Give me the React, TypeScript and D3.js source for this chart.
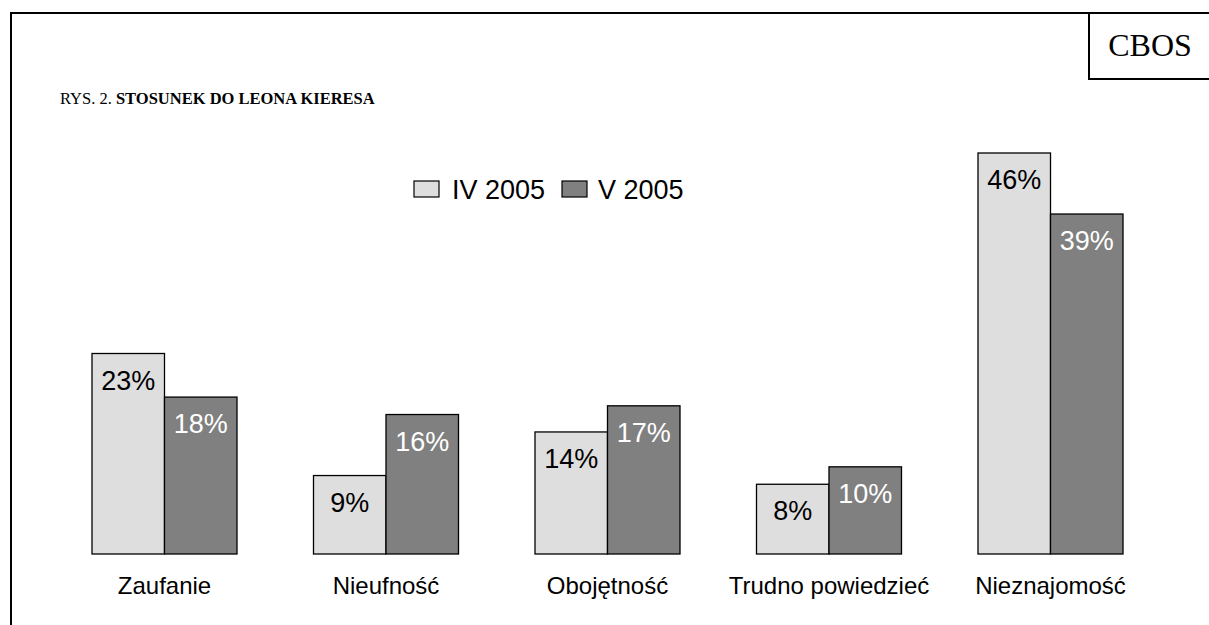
import React from "react";
import * as d3 from "d3";

const categories = ["Zaufanie", "Nieufność", "Obojętność", "Trudno powiedzieć", "Nieznajomość"];
const seriesNames = ["IV 2005", "V 2005"];
const valuesIV = [23, 9, 14, 8, 46];
const valuesV = [18, 16, 17, 10, 39];
const seriesColors = ["#dedede", "#808080"];
const labelColors = ["#000000", "#ffffff"];

const W = 1209;
const H = 625;

export default function App() {
  const y = d3.scaleLinear().domain([0, 46]).range([554, 153]);
  const xCenter = d3.scalePoint<string>().domain(categories).range([164.5, 1050.5]);
  const groupW = 145;
  const xSub = d3.scaleBand<number>().domain([0, 1]).range([0, groupW]);
  const series = [valuesIV, valuesV];
  const sans = "Arial, 'Liberation Sans', sans-serif";
  const serif = "'Times New Roman', 'Liberation Serif', serif";

  return (
    <svg
      width={W}
      height={H}
      style={{ position: "absolute", left: 0, top: 0, background: "#fff" }}
    >
      <rect x={0} y={0} width={W} height={H} fill="#fff" />
      {/* frame */}
      <line x1={11} y1={13} x2={11} y2={H} stroke="#000" strokeWidth={2} />
      <line x1={10} y1={13} x2={W} y2={13} stroke="#000" strokeWidth={2} />
      <line x1={1089} y1={13} x2={1089} y2={79} stroke="#000" strokeWidth={2} />
      <line x1={1088} y1={79} x2={W} y2={79} stroke="#000" strokeWidth={2} />
      <text x={1150} y={56} textAnchor="middle" fontFamily={serif} fontSize={32} fill="#000">
        CBOS
      </text>
      {/* title */}
      <text x={60} y={104} fontFamily={serif} fontSize={16.5} fill="#000">
        RYS. 2. <tspan fontWeight="bold">STOSUNEK DO LEONA KIERESA</tspan>
      </text>
      {/* legend */}
      <g>
        <rect x={414} y={181} width={25} height={16} fill={seriesColors[0]} stroke="#000" strokeWidth={1.2} />
        <text x={452} y={199} fontFamily={sans} fontSize={27} fill="#000">{seriesNames[0]}</text>
        <rect x={562} y={181} width={25} height={16} fill={seriesColors[1]} stroke="#000" strokeWidth={1.2} />
        <text x={598} y={199} fontFamily={sans} fontSize={27} fill="#000">{seriesNames[1]}</text>
      </g>
      {/* bars */}
      {categories.map((c, i) => {
        const gx = (xCenter(c) as number) - groupW / 2;
        return (
          <g key={c}>
            {series.map((vals, s) => {
              const bx = gx + (xSub(s) as number);
              const bw = xSub.bandwidth();
              const top = y(vals[i]);
              return (
                <g key={s}>
                  <rect
                    x={bx}
                    y={top}
                    width={bw}
                    height={y(0) - top}
                    fill={seriesColors[s]}
                    stroke="#000"
                    strokeWidth={1.3}
                  />
                  <text
                    x={bx + bw / 2}
                    y={top + 36}
                    textAnchor="middle"
                    fontFamily={sans}
                    fontSize={27}
                    fill={labelColors[s]}
                  >
                    {vals[i]}%
                  </text>
                </g>
              );
            })}
            <text
              x={xCenter(c)}
              y={594}
              textAnchor="middle"
              fontFamily={sans}
              fontSize={24}
              fill="#000"
            >
              {c}
            </text>
          </g>
        );
      })}
    </svg>
  );
}
